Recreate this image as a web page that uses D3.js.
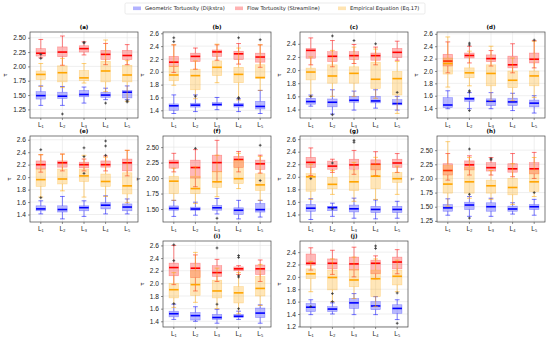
<!DOCTYPE html>
<html>
<head>
<meta charset="utf-8">
<script src="https://cdn.jsdelivr.net/npm/d3@7"></script>
<style>
  body { margin: 0; background: #fff; }
  svg { font-family: "DejaVu Sans", sans-serif; }
  .tick text { fill: #222; }
</style>
</head>
<body>
<script>
// categories and series
const categories = ["L₁", "L₂", "L₃", "L₄", "L₅"];
const seriesNames = ["Geometric Tortuosity (Dijkstra)", "Flow Tortuosity (Streamline)", "Empirical Equation (Eq.17)"];
const panelLabels = ["(a)", "(b)", "(c)", "(d)", "(e)", "(f)", "(g)", "(h)", "(i)", "(j)"];

// box stats per category: [whiskerLow, q1, median, q3, whiskerHigh]
const geoA = [[1.32,1.43,1.49,1.56,1.66],[1.32,1.44,1.48,1.55,1.65],[1.36,1.47,1.51,1.58,1.64],[1.42,1.46,1.50,1.55,1.62],[1.42,1.45,1.55,1.58,1.66]];
const flowA = [[2.15,2.18,2.23,2.31,2.47],[2.02,2.17,2.25,2.34,2.53],[2.20,2.25,2.31,2.36,2.43],[2.03,2.12,2.21,2.28,2.40],[2.03,2.12,2.19,2.28,2.38]];
const empA = [[1.65,1.77,1.86,1.92,2.05],[1.63,1.73,1.89,2.01,2.14],[1.71,1.75,1.80,1.93,2.05],[1.56,1.73,1.92,2.09,2.46],[1.39,1.73,1.85,2.02,2.10]];
const outA = [[0,2.14],[0,2.21],[1,1.17],[2,2.41],[2,2.42],[3,1.36],[4,1.38],[4,1.40]];

const geoB = [[1.35,1.40,1.47,1.50,1.64],[1.38,1.45,1.48,1.51,1.64],[1.41,1.47,1.49,1.52,1.60],[1.38,1.45,1.48,1.51,1.58],[1.35,1.42,1.46,1.54,1.71]];
const flowB = [[1.99,2.08,2.15,2.24,2.42],[2.04,2.16,2.24,2.29,2.37],[2.18,2.24,2.31,2.34,2.42],[2.12,2.19,2.28,2.32,2.44],[2.07,2.15,2.23,2.29,2.42]];
const empB = [[1.79,1.86,1.95,2.09,2.42],[1.58,1.72,1.94,2.04,2.17],[1.83,1.94,2.07,2.17,2.43],[1.56,1.83,1.96,2.07,2.37],[1.71,1.90,1.91,2.11,2.42]];
const outB = [[0,2.47],[0,2.53],[1,1.62],[3,2.53],[3,1.58],[3,1.60],[4,2.50]];

const geoC = [[1.45,1.48,1.52,1.57,1.62],[1.33,1.44,1.51,1.56,1.70],[1.39,1.51,1.54,1.60,1.68],[1.42,1.50,1.53,1.60,1.70],[1.39,1.47,1.49,1.55,1.60]];
const flowC = [[2.08,2.18,2.30,2.33,2.49],[2.05,2.13,2.21,2.28,2.45],[2.10,2.16,2.22,2.28,2.39],[2.08,2.15,2.22,2.26,2.35],[2.15,2.19,2.27,2.33,2.44]];
const empC = [[1.60,1.85,1.97,2.03,2.20],[1.60,1.80,1.91,2.08,2.30],[1.60,1.80,1.95,2.05,2.35],[1.57,1.72,1.86,2.12,2.32],[1.34,1.62,1.87,1.98,2.13]];
const outC = [[0,1.60],[1,1.32],[1,2.52],[2,2.45],[3,2.40],[4,1.66]];

const geoD = [[1.39,1.41,1.45,1.57,1.68],[1.39,1.51,1.55,1.57,1.65],[1.39,1.44,1.51,1.55,1.65],[1.36,1.44,1.50,1.56,1.64],[1.32,1.42,1.48,1.53,1.60]];
const flowD = [[1.97,2.08,2.16,2.27,2.47],[2.13,2.21,2.25,2.29,2.40],[2.08,2.15,2.20,2.26,2.33],[1.97,2.05,2.10,2.24,2.44],[2.05,2.13,2.19,2.29,2.49]];
const empD = [[1.74,1.95,2.12,2.21,2.55],[1.76,1.89,1.97,2.05,2.32],[1.52,1.76,1.96,2.10,2.40],[1.52,1.73,1.85,2.00,2.21],[1.57,1.76,1.92,2.00,2.48]];
const outD = [[1,1.68],[1,1.66],[1,1.36],[1,2.42],[1,2.45],[4,2.50]];

const geoE = [[1.41,1.46,1.49,1.54,1.62],[1.33,1.44,1.48,1.54,1.69],[1.37,1.46,1.51,1.54,1.62],[1.41,1.49,1.55,1.59,1.70],[1.41,1.46,1.52,1.57,1.65]];
const flowE = [[2.08,2.13,2.20,2.26,2.36],[2.10,2.16,2.23,2.26,2.37],[2.10,2.15,2.20,2.24,2.29],[2.10,2.16,2.20,2.26,2.34],[2.02,2.10,2.23,2.29,2.43]];
const empE = [[1.68,1.85,1.96,2.13,2.36],[1.78,1.89,1.97,2.13,2.37],[1.68,1.93,2.02,2.13,2.35],[1.69,1.85,1.93,2.05,2.32],[1.59,1.73,1.86,2.07,2.43]];
const outE = [[0,2.44],[0,1.67],[2,2.33],[2,2.47],[2,2.06],[3,2.35],[3,2.50],[3,2.58]];

const geoF = [[1.38,1.48,1.51,1.55,1.64],[1.40,1.48,1.50,1.53,1.61],[1.42,1.48,1.52,1.56,1.67],[1.34,1.41,1.48,1.52,1.64],[1.37,1.45,1.49,1.59,1.64]];
const flowF = [[2.10,2.16,2.25,2.29,2.40],[1.86,2.00,2.17,2.29,2.46],[1.94,2.10,2.25,2.37,2.61],[2.10,2.17,2.30,2.35,2.43],[2.08,2.14,2.23,2.29,2.37]];
const empF = [[1.64,1.75,1.95,2.03,2.16],[1.59,1.75,1.83,2.03,2.18],[1.70,1.85,1.94,2.11,2.37],[1.83,1.91,1.99,2.29,2.40],[1.64,1.80,1.89,2.07,2.35]];
const outF = [[1,2.48],[2,1.35],[4,2.53],[4,1.96]];

const geoG = [[1.32,1.45,1.50,1.56,1.65],[1.37,1.46,1.51,1.53,1.58],[1.34,1.44,1.49,1.55,1.66],[1.33,1.43,1.48,1.53,1.63],[1.34,1.43,1.48,1.53,1.61]];
const flowG = [[2.02,2.15,2.23,2.31,2.46],[2.07,2.12,2.17,2.25,2.28],[2.04,2.12,2.19,2.28,2.42],[2.02,2.11,2.20,2.27,2.40],[2.07,2.15,2.22,2.28,2.37]];
const empG = [[1.64,1.77,2.00,2.05,2.20],[1.72,1.81,1.88,1.99,2.10],[1.61,1.78,1.92,2.10,2.23],[1.64,1.81,2.01,2.20,2.31],[1.72,1.91,1.97,2.07,2.17]];
const outG = [[0,1.97],[1,2.22],[1,1.49],[2,2.55],[2,2.58]];

const geoH = [[1.35,1.42,1.48,1.54,1.64],[1.33,1.45,1.53,1.58,1.68],[1.33,1.42,1.50,1.57,1.65],[1.37,1.42,1.46,1.51,1.57],[1.35,1.45,1.50,1.54,1.63]];
const flowH = [[1.97,2.06,2.14,2.26,2.44],[2.06,2.15,2.24,2.31,2.40],[2.06,2.13,2.19,2.28,2.37],[2.03,2.11,2.17,2.26,2.44],[2.00,2.08,2.17,2.28,2.46]];
const empH = [[1.51,1.74,1.90,2.23,2.65],[1.65,1.74,1.94,2.20,2.37],[1.63,1.74,1.87,1.97,2.14],[1.54,1.71,1.84,2.00,2.26],[1.68,1.77,1.94,2.14,2.37]];
const outH = [[1,1.30],[1,2.52],[1,1.72],[2,2.33],[2,2.35],[4,1.75]];

const geoI = [[1.43,1.47,1.52,1.56,1.67],[1.40,1.42,1.49,1.54,1.63],[1.37,1.43,1.46,1.51,1.59],[1.43,1.46,1.48,1.51,1.56],[1.37,1.46,1.53,1.61,1.66]];
const flowI = [[1.98,2.12,2.25,2.32,2.60],[1.88,2.09,2.24,2.32,2.45],[2.03,2.11,2.17,2.28,2.38],[2.14,2.20,2.23,2.26,2.28],[2.03,2.14,2.23,2.29,2.37]];
const empI = [[1.62,1.77,1.90,2.00,2.17],[1.70,1.81,1.98,2.20,2.49],[1.60,1.77,1.88,2.05,2.24],[1.52,1.69,1.85,1.95,2.17],[1.65,1.80,1.92,2.11,2.30]];
const outI = [[0,2.61],[0,2.36],[0,1.68],[2,2.56],[2,1.67],[3,2.41],[3,2.44],[3,2.12],[3,2.10],[3,1.60]];

const geoJ = [[1.39,1.44,1.51,1.57,1.63],[1.40,1.44,1.48,1.52,1.58],[1.39,1.49,1.58,1.65,1.73],[1.39,1.47,1.53,1.60,1.68],[1.31,1.41,1.49,1.55,1.63]];
const flowJ = [[2.11,2.19,2.22,2.37,2.47],[2.04,2.13,2.22,2.29,2.43],[2.00,2.11,2.21,2.32,2.48],[1.97,2.05,2.22,2.27,2.34],[2.05,2.13,2.24,2.32,2.44]];
const empJ = [[1.76,1.97,2.05,2.13,2.25],[1.60,1.79,1.99,2.11,2.29],[1.65,1.84,1.95,2.12,2.32],[1.52,1.68,1.97,2.11,2.29],[1.76,1.87,2.01,2.11,2.27]];
const outJ = [[0,1.52],[1,1.73],[1,1.60],[3,2.46],[3,2.50],[4,1.25],[4,1.74]];

// y ranges and tick labels per panel
const yDomains = [[1.10,2.60],[1.28,2.62],[1.27,2.58],[1.24,2.63],[1.28,2.66],[1.29,2.68],[1.28,2.65],[1.23,2.75],[1.31,2.67],[1.19,2.58]];
const ticksQuarter = [1.25, 1.50, 1.75, 2.00, 2.25, 2.50];
const ticksFifth = [1.4, 1.6, 1.8, 2.0, 2.2, 2.4, 2.6];
const ticksJ = [1.2, 1.4, 1.6, 1.8, 2.0, 2.2, 2.4];

const seriesColors = ["#0000ff", "#ff0000", "#ffa500"];

// grid placement of panels (col, row)
const colLeft = [30, 163, 300, 437], rowTop = [32, 136, 241];
const pw = 108, ph = 86;
const slots = [[0,0],[1,0],[2,0],[3,0],[0,1],[1,1],[2,1],[3,1],[1,2],[2,2]];

const panels = [
  [geoA, flowA, empA, outA, ticksQuarter, ".2f"],
  [geoB, flowB, empB, outB, ticksFifth, ".1f"],
  [geoC, flowC, empC, outC, ticksFifth.slice(0, 6), ".1f"],
  [geoD, flowD, empD, outD, ticksFifth, ".1f"],
  [geoE, flowE, empE, outE, ticksFifth, ".1f"],
  [geoF, flowF, empF, outF, ticksQuarter.slice(1), ".2f"],
  [geoG, flowG, empG, outG, ticksFifth, ".1f"],
  [geoH, flowH, empH, outH, ticksQuarter, ".2f"],
  [geoI, flowI, empI, outI, ticksFifth, ".1f"],
  [geoJ, flowJ, empJ, outJ, ticksJ, ".1f"]
];

const svg = d3.select("body").append("svg")
  .attr("width", 550)
  .attr("height", 338);

panels.forEach(function(p, i) {
  var left = colLeft[slots[i][0]], top = rowTop[slots[i][1]];
  var g = svg.append("g").attr("transform", "translate(" + left + "," + top + ")");

  var x = d3.scaleBand().domain(categories).range([0, pw]);
  var y = d3.scaleLinear().domain(yDomains[i]).range([ph, 0]);
  var cx = function(k) { return x(categories[k]) + x.bandwidth() / 2; };
  var bw = x.bandwidth() * 0.44;

  // grid
  g.append("g").selectAll("line").data(p[4]).enter().append("line")
    .attr("x1", 0).attr("x2", pw)
    .attr("y1", function(d) { return y(d); }).attr("y2", function(d) { return y(d); })
    .attr("stroke", "#e4e4e4").attr("stroke-width", 0.6);
  g.append("g").selectAll("line").data(categories).enter().append("line")
    .attr("x1", function(d) { return x(d) + x.bandwidth() / 2; })
    .attr("x2", function(d) { return x(d) + x.bandwidth() / 2; })
    .attr("y1", 0).attr("y2", ph)
    .attr("stroke", "#e4e4e4").attr("stroke-width", 0.6);

  // boxes, one series at a time
  [0, 1, 2].forEach(function(s) {
    var col = seriesColors[s];
    var sg = g.append("g");
    var stats = p[s];
    // whiskers
    sg.selectAll(".wl").data(stats).enter().append("line")
      .attr("x1", function(d, k) { return cx(k); }).attr("x2", function(d, k) { return cx(k); })
      .attr("y1", function(d) { return y(d[0]); }).attr("y2", function(d) { return y(d[1]); })
      .attr("stroke", col).attr("stroke-opacity", 0.55).attr("stroke-width", 0.9);
    sg.selectAll(".wh").data(stats).enter().append("line")
      .attr("x1", function(d, k) { return cx(k); }).attr("x2", function(d, k) { return cx(k); })
      .attr("y1", function(d) { return y(d[3]); }).attr("y2", function(d) { return y(d[4]); })
      .attr("stroke", col).attr("stroke-opacity", 0.55).attr("stroke-width", 0.9);
    // caps
    [0, 4].forEach(function(j) {
      sg.selectAll(".cap" + j).data(stats).enter().append("line")
        .attr("x1", function(d, k) { return cx(k) - bw / 4; }).attr("x2", function(d, k) { return cx(k) + bw / 4; })
        .attr("y1", function(d) { return y(d[j]); }).attr("y2", function(d) { return y(d[j]); })
        .attr("stroke", col).attr("stroke-opacity", 0.6).attr("stroke-width", 0.9);
    });
    // box
    sg.selectAll("rect").data(stats).enter().append("rect")
      .attr("x", function(d, k) { return cx(k) - bw / 2; })
      .attr("width", bw)
      .attr("y", function(d) { return y(d[3]); })
      .attr("height", function(d) { return y(d[1]) - y(d[3]); })
      .attr("fill", col).attr("fill-opacity", 0.28)
      .attr("stroke", col).attr("stroke-opacity", 0.35).attr("stroke-width", 0.6);
    // median
    sg.selectAll(".med").data(stats).enter().append("line")
      .attr("x1", function(d, k) { return cx(k) - bw / 2; }).attr("x2", function(d, k) { return cx(k) + bw / 2; })
      .attr("y1", function(d) { return y(d[2]); }).attr("y2", function(d) { return y(d[2]); })
      .attr("stroke", col).attr("stroke-width", 1.6);
  });

  // outliers
  g.append("g").selectAll("path").data(p[3]).enter().append("path")
    .attr("transform", function(d) { return "translate(" + cx(d[0]) + "," + y(d[1]) + ")"; })
    .attr("d", "M-1.4,0H1.4M0,-1.4V1.4")
    .attr("stroke", "#333").attr("stroke-width", 0.8);

  // frame
  g.append("rect").attr("width", pw).attr("height", ph)
    .attr("fill", "none").attr("stroke", "#444").attr("stroke-width", 0.7);

  // axes
  var ya = g.append("g").call(d3.axisLeft(y).tickValues(p[4]).tickSize(2).tickPadding(2).tickFormat(d3.format(p[5])));
  ya.select(".domain").remove();
  ya.selectAll("text").attr("font-size", 6.6);
  ya.selectAll("line").attr("stroke", "#444").attr("stroke-width", 0.6);

  var xa = g.append("g").attr("transform", "translate(0," + ph + ")")
    .call(d3.axisBottom(x).tickSize(2).tickPadding(2));
  xa.select(".domain").remove();
  xa.selectAll("text").attr("font-size", 6.4);
  xa.selectAll("line").attr("stroke", "#444").attr("stroke-width", 0.6);

  // title and y label
  g.append("text").attr("x", pw / 2).attr("y", -3)
    .attr("text-anchor", "middle").attr("font-size", 5.5).attr("font-weight", "bold")
    .text(panelLabels[i]);
  g.append("text")
    .attr("transform", "translate(" + (p[5] === ".2f" ? -23 : -19) + "," + (ph / 2) + ") rotate(-90)")
    .attr("text-anchor", "middle").attr("font-size", 5.5)
    .text("τ");
});

// legend
const legend = svg.append("g").attr("transform", "translate(125,3)");
legend.append("rect").attr("width", 300).attr("height", 11).attr("rx", 1.5)
  .attr("fill", "#fff").attr("stroke", "#ddd").attr("stroke-width", 0.6);
const legendX = [8, 110, 213];
seriesNames.forEach(function(name, s) {
  legend.append("rect").attr("x", legendX[s]).attr("y", 3.5).attr("width", 8).attr("height", 3.6)
    .attr("fill", seriesColors[s]).attr("fill-opacity", 0.3);
  legend.append("text").attr("x", legendX[s] + 12).attr("y", 7.4)
    .attr("font-size", 5.2).attr("fill", "#222").text(name);
});
</script>
</body>
</html>
